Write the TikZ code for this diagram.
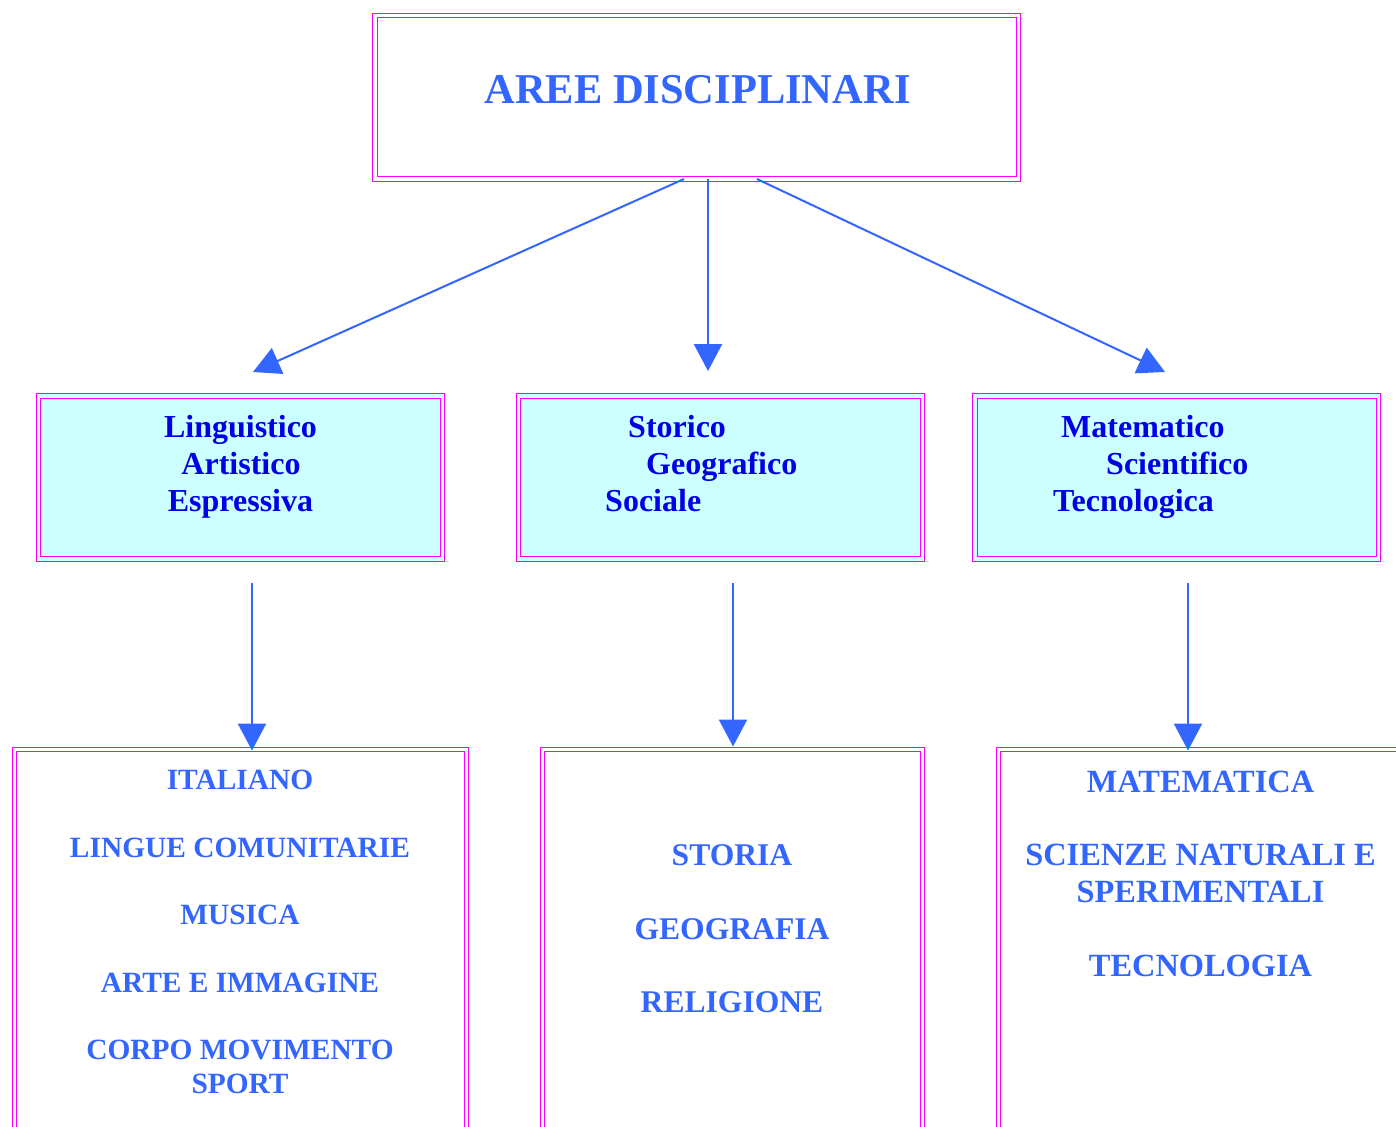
\documentclass[tikz,border=0pt]{standalone}
\usepackage{fontspec}
\setmainfont{Liberation Serif}
\usetikzlibrary{arrows.meta,calc}
\definecolor{tblue}{RGB}{51,102,255}
\definecolor{dblue}{RGB}{0,0,230}
\definecolor{mag}{RGB}{255,0,255}
\definecolor{cyanf}{RGB}{204,255,255}
\begin{document}
\begin{tikzpicture}[x=1pt,y=-1pt,
  box/.style={draw=mag, line width=1pt, double=white, double distance=3.5pt,
    rectangle, inner sep=0pt, outer sep=0pt, anchor=north west},
  cbox/.style={box, fill=cyanf, double=cyanf},
  titletxt/.style={text=tblue, font=\fontsize{42.5}{50}\selectfont\bfseries, inner sep=0pt, anchor=base},
  midtxt/.style={text=dblue, font=\fontsize{32}{37}\selectfont\bfseries, inner sep=0pt},
  lowtxt/.style={text=tblue, font=\fontsize{29.4}{34}\selectfont\bfseries, inner sep=0pt, anchor=base},
  lowtxtm/.style={lowtxt, font=\fontsize{31.6}{36}\selectfont\bfseries},
  lowtxtr/.style={lowtxt, font=\fontsize{32.4}{37}\selectfont\bfseries},
  arr/.style={draw=tblue, line width=2.5pt, -{Triangle[length=27pt,width=28pt]}},
  darr/.style={arr, line width=2pt}]
\clip (0,0) rectangle (1396,1126);
% boxes
\node[box, minimum width=643.5pt, minimum height=163.5pt] (top) at (375,15.5) {};
\node[cbox, minimum width=404pt, minimum height=163pt] (lbox) at (38.5,396) {};
\node[cbox, minimum width=404pt, minimum height=163pt] (mbox) at (518.5,396) {};
\node[cbox, minimum width=403.5pt, minimum height=163pt] (rbox) at (975,396) {};
\node[box, minimum width=452pt, minimum height=450pt] (lbot) at (14.5,749.5) {};
\node[box, minimum width=380pt, minimum height=450pt] (mbot) at (542.5,749.5) {};
\node[box, minimum width=450pt, minimum height=450pt] (rbot) at (998.5,749.5) {};
% texts
\node[titletxt] (ttl) at (697.5,104) {AREE DISCIPLINARI};
\node[midtxt, anchor=base] (l1) at (240.5,437) {Linguistico};
\node[midtxt, anchor=base] (l2) at (241,474) {Artistico};
\node[midtxt, anchor=base] (l3) at (240.5,511) {Espressiva};
\node[midtxt, anchor=base west] (m1) at (628,437) {Storico};
\node[midtxt, anchor=base west] (m2) at (646,474) {Geografico};
\node[midtxt, anchor=base west] (m3) at (605,511) {Sociale};
\node[midtxt, anchor=base west] (r1) at (1061,437) {Matematico};
\node[midtxt, anchor=base west] (r2) at (1106,474) {Scientifico};
\node[midtxt, anchor=base west] (r3) at (1053,511) {Tecnologica};
\node[lowtxt] (a1) at (240,789) {ITALIANO};
\node[lowtxt] (a2) at (240,857) {LINGUE COMUNITARIE};
\node[lowtxt] (a3) at (240,924) {MUSICA};
\node[lowtxt] (a4) at (240,992) {ARTE E IMMAGINE};
\node[lowtxt] (a5) at (240,1059) {CORPO MOVIMENTO};
\node[lowtxt] (a6) at (240,1093) {SPORT};
\node[lowtxtm] (b1) at (732,865) {STORIA};
\node[lowtxtm] (b2) at (732,939) {GEOGRAFIA};
\node[lowtxtm] (b3) at (732,1012) {RELIGIONE};
\node[lowtxtr] (c1) at (1200.5,792) {MATEMATICA};
\node[lowtxtr] (c2) at (1200.5,865) {SCIENZE NATURALI E};
\node[lowtxtr] (c3) at (1200.5,902) {SPERIMENTALI};
\node[lowtxtr] (c4) at (1200.5,976) {TECNOLOGIA};
% connector end points
\coordinate (s1) at ($(top.south west)+(309,0)$);
\coordinate (s2) at ($(top.south west)+(333,0)$);
\coordinate (s3) at ($(top.south west)+(382,0)$);
\coordinate (e1) at ($(lbox.north west)+(214.5,-24)$);
\coordinate (e2) at ($(mbox.north west)+(189.5,-25)$);
\coordinate (e3) at ($(rbox.north west)+(190,-24)$);
\coordinate (u1) at ($(lbox.south)+(11.5,24)$);
\coordinate (u2) at ($(mbox.south)+(12.5,24)$);
\coordinate (u3) at ($(rbox.south)+(11.25,24)$);
\coordinate (v1) at ($(lbot.north west)+(237.5,1)$);
\coordinate (v2) at ($(mbot.north west)+(190.5,-3)$);
\coordinate (v3) at ($(rbot.north west)+(189.5,1)$);
% connectors
\draw[darr] (s1) -- (e1);
\draw[arr] (s2) -- (e2);
\draw[darr] (s3) -- (e3);
\draw[arr] (u1) -- (v1);
\draw[arr] (u2) -- (v2);
\draw[arr] (u3) -- (v3);
\end{tikzpicture}
\end{document}
